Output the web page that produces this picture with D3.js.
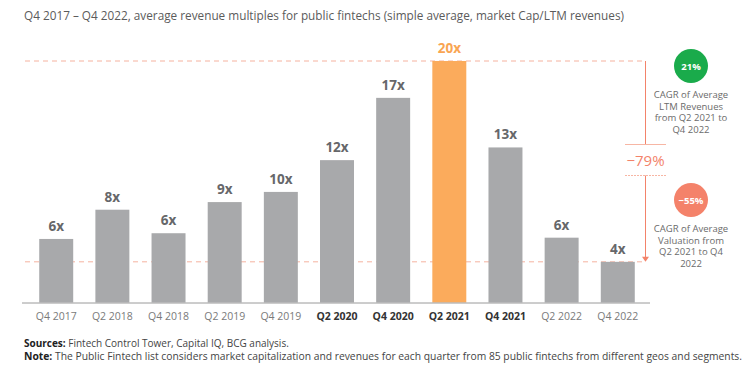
<!DOCTYPE html>
<html>
<head>
<meta charset="utf-8">
<script src="https://cdn.jsdelivr.net/npm/d3@7"></script>
<style>
  body { margin: 0; background: #fff; }
  text { font-family: 'Open Sans', 'Noto Sans', sans-serif; }
</style>
</head>
<body>
<div id="chart"></div>
<script>
  // quarters and average revenue multiples (x)
  let quarters   = ['Q4 2017', 'Q2 2018', 'Q4 2018', 'Q2 2019', 'Q4 2019', 'Q2 2020',
                    'Q4 2020', 'Q2 2021', 'Q4 2021', 'Q2 2022', 'Q4 2022']
  let multiples  = [6.0, 8.3, 6.45, 8.9, 9.7, 12.2, 17.1, 20.0, 13.2, 6.1, 4.2]
  let boldTicks  = ['Q2 2020', 'Q4 2020', 'Q2 2021', 'Q4 2021']
  let peak       = 'Q2 2021'
  let latest     = 'Q4 2022'
  let dropLabel  = '\u221279%'
  let cagrBadges = [
    { value: '21%',       color: '#1aab4b', lines: ['CAGR of Average', 'LTM Revenues', 'from Q2 2021 to', 'Q4 2022'] },
    { value: '\u221255%', color: '#f4826a', lines: ['CAGR of Average', 'Valuation from', 'Q2 2021 to Q4', '2022'] }
  ]
  let titleText = 'Q4 2017 \u2013 Q4 2022, average revenue multiples for public fintechs (simple average, market Cap/LTM revenues)'
  let sources   = ['Sources:', ' Fintech Control Tower, Capital IQ, BCG analysis.']
  let note      = ['Note:', ' The Public Fintech list considers market capitalization and revenues for each quarter from 85 public fintechs from different geos and segments.']

  let width = 752, height = 372,
      baseY = 302.5

  let svg = d3.select('#chart')
              .append('svg:svg')
              .attr('width', width)
              .attr('height', height)

  let x = d3.scaleBand()
            .domain(quarters)
            .range([28, 646])
            .paddingInner(0.395)
            .paddingOuter(0.2)

  // the source chart's value axis does not start at zero
  let y = d3.scaleLinear()
            .domain([1, 20])
            .range([baseY, 61])

  let peakY   = y(multiples[quarters.indexOf(peak)]),
      latestY = y(multiples[quarters.indexOf(latest)]),
      bx      = 645.5

  // title
  svg.append('text')
    .attr('x', 24).attr('y', 20)
    .attr('font-size', 12.5)
    .attr('fill', '#5b5b5b')
    .attr('textLength', 600)
    .attr('lengthAdjust', 'spacingAndGlyphs')
    .text(titleText)

  // dashed reference lines
  svg.selectAll('line.ref').data([peakY, latestY])
    .enter().append('line')
      .attr('class', 'ref')
      .attr('x1', 25).attr('x2', bx)
      .attr('y1', d => d).attr('y2', d => d)
      .attr('stroke', '#f5b29f')
      .attr('stroke-width', 1)
      .attr('stroke-dasharray', '5,4')

  // bars
  svg.selectAll('rect.bar').data(quarters)
    .enter().append('rect')
      .attr('class', 'bar')
      .attr('x', d => x(d))
      .attr('width', x.bandwidth())
      .attr('y', (d, i) => y(multiples[i]))
      .attr('height', (d, i) => baseY - y(multiples[i]))
      .attr('fill', d => d === peak ? '#fbab5c' : '#a8a9ab')

  // value labels
  svg.selectAll('text.val').data(quarters)
    .enter().append('text')
      .attr('class', 'val')
      .attr('x', d => x(d) + x.bandwidth() / 2)
      .attr('y', (d, i) => y(multiples[i]) - 8)
      .attr('text-anchor', 'middle')
      .attr('font-size', 13.5)
      .attr('font-weight', 'bold')
      .attr('fill', d => d === peak ? '#f9a552' : '#66676a')
      .text((d, i) => d3.format('.0f')(multiples[i]) + 'x')

  // baseline axis
  let axis = svg.append('g')
    .attr('transform', 'translate(0,' + baseY + ')')
    .call(d3.axisBottom(x).tickSize(0).tickPadding(10))
  axis.select('.domain')
    .attr('d', 'M22,0.5H650')
    .attr('stroke', '#9a9a9a')
  axis.selectAll('.tick text')
    .attr('font-family', "'Open Sans', sans-serif")
    .attr('font-size', 10.5)
    .attr('font-weight', d => boldTicks.includes(d) ? 'bold' : 'normal')
    .attr('fill', d => boldTicks.includes(d) ? '#333' : '#7a7a7a')

  // drop bracket
  let c = '#f3836a', midTop = 144.5, midBot = 175.5
  svg.append('line')
    .attr('x1', bx).attr('x2', bx).attr('y1', peakY).attr('y2', midTop)
    .attr('stroke', c)
  svg.append('line')
    .attr('x1', 625).attr('x2', 666).attr('y1', midTop).attr('y2', midTop)
    .attr('stroke', '#f7b6a4')
  svg.append('line')
    .attr('x1', 625).attr('x2', 666).attr('y1', midBot).attr('y2', midBot)
    .attr('stroke', '#f7b6a4').attr('stroke-dasharray', '2,1')
  svg.append('line')
    .attr('x1', bx).attr('x2', bx).attr('y1', midBot).attr('y2', latestY - 4)
    .attr('stroke', c)
  svg.append('path')
    .attr('d', 'M' + (bx - 3.5) + ',' + (latestY - 5) + 'L' + (bx + 3.5) + ',' + (latestY - 5) + 'L' + bx + ',' + latestY + 'Z')
    .attr('fill', c)
  svg.append('text')
    .attr('x', bx).attr('y', 166)
    .attr('text-anchor', 'middle')
    .attr('font-size', 15)
    .attr('fill', c)
    .text(dropLabel)

  // CAGR badges
  let badge = svg.selectAll('g.badge').data(cagrBadges)
    .enter().append('g')
      .attr('class', 'badge')
      .attr('transform', (d, i) => 'translate(691,' + [66, 200][i] + ')')
  badge.append('circle')
    .attr('r', 17)
    .attr('fill', d => d.color)
  badge.append('text')
    .attr('y', 3.5)
    .attr('text-anchor', 'middle')
    .attr('font-size', 9.5)
    .attr('font-weight', 'bold')
    .attr('fill', '#fff')
    .text(d => d.value)
  badge.selectAll('text.desc').data(d => d.lines)
    .enter().append('text')
      .attr('class', 'desc')
      .attr('y', (d, i) => 32 + i * 11.5)
      .attr('text-anchor', 'middle')
      .attr('font-size', 9.5)
      .attr('fill', '#6b6b6b')
      .text(d => d)

  // footer
  let foot = svg.selectAll('text.foot').data([sources, note])
    .enter().append('text')
      .attr('class', 'foot')
      .attr('x', 24)
      .attr('y', (d, i) => 347 + i * 12.5)
      .attr('font-size', 10)
      .attr('fill', '#444')
  foot.append('tspan').attr('font-weight', 'bold').attr('fill', '#222').text(d => d[0])
  foot.append('tspan').text(d => d[1])
  foot.filter((d, i) => i === 1)
    .attr('textLength', 718)
    .attr('lengthAdjust', 'spacingAndGlyphs')
</script>
</body>
</html>
